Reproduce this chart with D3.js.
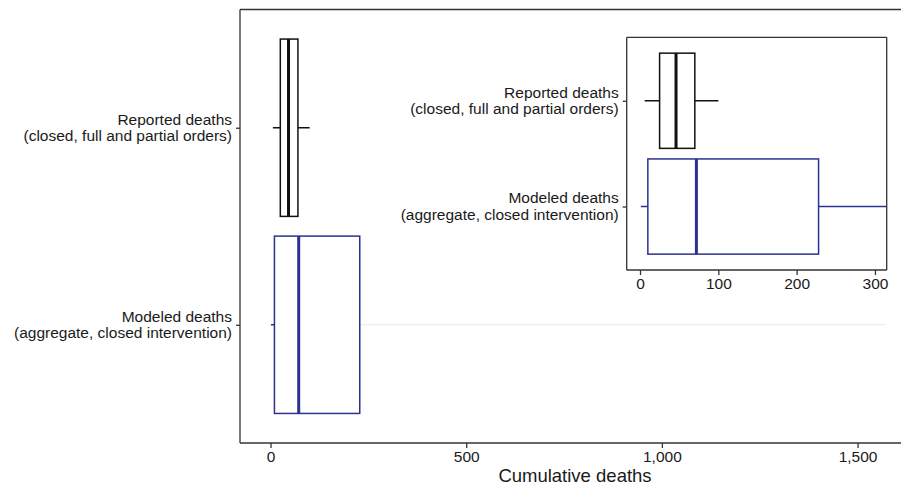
<!DOCTYPE html>
<html lang="en">
	<head>
		<meta charset="utf-8">
		<title>Cumulative deaths</title>
		<script type="text/javascript" src="https://cdn.jsdelivr.net/npm/d3@7"></script>
		<style>
			body { margin: 0; background: #ffffff; }
			text { font-family: "Liberation Sans", Arial, sans-serif; fill: #1a1a1a; }
		</style>
	</head>
	<body>
		<script type="text/javascript">
			// categories and box stats (whisker low, q1, median, q3, whisker high)
			var categories = ["Reported", "Modeled"];
			var labelLines = [
				["Reported deaths", "(closed, full and partial orders)"],
				["Modeled deaths", "(aggregate, closed intervention)"]
			];
			var whiskerLow = [6, 1];
			var q1 = [25, 10];
			var median = [46, 72];
			var q3 = [70, 228];
			var whiskerHigh = [100, 1570];

			var mainTicks = [0, 500, 1000, 1500];
			var insetTicks = [0, 100, 200, 300];

			var colors = ["#111111", "#2e3192"];

			var w = 901;
			var h = 487;

			var svg = d3.select("body")
						.append("svg")
						.attr("width", w)
						.attr("height", h);

			var rows = categories.map(function(c, i) {
				return {
					cat: c, lines: labelLines[i], lo: whiskerLow[i], q1: q1[i],
					med: median[i], q3: q3[i], hi: whiskerHigh[i], color: colors[i]
				};
			});

			// draw one boxplot panel
			function drawPanel(g, xScale, yScale, opts) {
				var boxH = yScale.step() * 0.9;

				// clip to the panel
				var clipId = "clip-" + opts.name;
				g.append("clipPath")
					.attr("id", clipId)
					.append("rect")
					.attr("x", opts.left)
					.attr("y", opts.top)
					.attr("width", opts.right - opts.left)
					.attr("height", opts.bottom - opts.top);

				var plot = g.append("g").attr("clip-path", "url(#" + clipId + ")");

				var box = plot.selectAll("g.box")
					.data(rows)
					.enter()
					.append("g")
					.attr("class", "box");

				// whiskers
				box.append("line")
					.attr("x1", function(d) { return xScale(d.lo); })
					.attr("x2", function(d) { return xScale(d.q1); })
					.attr("y1", function(d) { return yScale(d.cat); })
					.attr("y2", function(d) { return yScale(d.cat); })
					.attr("stroke", function(d) { return d.color; })
					.attr("stroke-width", 1.5);

				box.append("line")
					.attr("x1", function(d) { return xScale(d.q3); })
					.attr("x2", function(d) { return xScale(d.hi); })
					.attr("y1", function(d) { return yScale(d.cat); })
					.attr("y2", function(d) { return yScale(d.cat); })
					.attr("stroke", function(d, i) {
						// the long whisker on the main panel renders very faint
						if (opts.name == "main" && i == 1) return "#e6e6f8";
						return d.color;
					})
					.attr("stroke-width", function(d, i) {
						return (opts.name == "main" && i == 1) ? 1 : 1.5;
					});

				// boxes
				box.append("rect")
					.attr("x", function(d) { return xScale(d.q1); })
					.attr("y", function(d) { return yScale(d.cat) - boxH / 2; })
					.attr("width", function(d) { return xScale(d.q3) - xScale(d.q1); })
					.attr("height", boxH)
					.attr("fill", "#ffffff")
					.attr("stroke", function(d) { return d.color; })
					.attr("stroke-width", 1.5);

				// medians
				box.append("line")
					.attr("x1", function(d) { return xScale(d.med); })
					.attr("x2", function(d) { return xScale(d.med); })
					.attr("y1", function(d) { return yScale(d.cat) - boxH / 2; })
					.attr("y2", function(d) { return yScale(d.cat) + boxH / 2; })
					.attr("stroke", function(d) { return d.color; })
					.attr("stroke-width", 3);

				// X axis
				var xAxis = d3.axisBottom()
					.scale(xScale)
					.tickValues(opts.ticks)
					.tickFormat(d3.format(","))
					.tickSize(5)
					.tickPadding(3);

				var xg = g.append("g")
					.attr("transform", "translate(0," + opts.bottom + ")")
					.call(xAxis);
				xg.select(".domain").remove();
				xg.append("line")
					.attr("x1", opts.left)
					.attr("x2", opts.right)
					.attr("stroke", "#333333")
					.attr("stroke-width", 1.3);
				xg.selectAll(".tick line").attr("stroke", "#333333").attr("stroke-width", 1.3);
				xg.selectAll(".tick text")
					.attr("font-size", "15.5px")
					.attr("font-family", "Liberation Sans, Arial, sans-serif")
					.attr("fill", "#1a1a1a");

				// Y axis (ticks only, labels drawn as two lines)
				var yAxis = d3.axisLeft()
					.scale(yScale)
					.tickSize(4)
					.tickFormat("");

				var yg = g.append("g")
					.attr("transform", "translate(" + opts.left + ",0)")
					.call(yAxis);
				yg.select(".domain").remove();
				yg.selectAll(".tick line").attr("stroke", "#333333").attr("stroke-width", 1.3);

				var lab = g.selectAll("text.ylab")
					.data(rows)
					.enter()
					.append("text")
					.attr("class", "ylab")
					.attr("text-anchor", "end")
					.attr("font-size", "15.5px")
					.attr("y", function(d) { return yScale(d.cat); });
				lab.selectAll("tspan")
					.data(function(d) { return d.lines; })
					.enter()
					.append("tspan")
					.attr("x", opts.left - 8)
					.attr("dy", function(d, i) { return i == 0 ? "-0.2em" : "1.05em"; })
					.text(function(d) { return d; });

				// panel frame
				g.append("line")
					.attr("x1", opts.left).attr("x2", opts.left)
					.attr("y1", opts.top).attr("y2", opts.bottom)
					.attr("stroke", "#333333").attr("stroke-width", 1.3);
				g.append("line")
					.attr("x1", opts.left).attr("x2", opts.right)
					.attr("y1", opts.top).attr("y2", opts.top)
					.attr("stroke", "#333333").attr("stroke-width", 1.3);
				if (opts.closed) {
					g.append("line")
						.attr("x1", opts.right).attr("x2", opts.right)
						.attr("y1", opts.top).attr("y2", opts.bottom)
						.attr("stroke", "#333333").attr("stroke-width", 1.3);
				}
			}

			// Main panel
			var mainOpts = { name: "main", left: 240, right: 901, top: 9.5, bottom: 443, ticks: mainTicks, closed: false };
			var xMain = d3.scaleLinear()
						.domain([-78, 1611])
						.range([mainOpts.left, mainOpts.right]);
			var yMain = d3.scalePoint()
						.domain(categories)
						.range([mainOpts.top, mainOpts.bottom])
						.padding(0.6);

			drawPanel(svg.append("g"), xMain, yMain, mainOpts);

			// X axis title
			svg.append("text")
				.attr("text-anchor", "middle")
				.attr("x", 575)
				.attr("y", 482)
				.attr("font-size", "18.5px")
				.text("Cumulative deaths");

			// Inset panel
			var insetOpts = { name: "inset", left: 626.7, right: 886.7, top: 37.3, bottom: 270, ticks: insetTicks, closed: true };
			var xInset = d3.scaleLinear()
						.domain([-17, 315])
						.range([insetOpts.left, insetOpts.right]);
			var yInset = d3.scalePoint()
						.domain(categories)
						.range([insetOpts.top, insetOpts.bottom])
						.padding(0.6);

			var inset = svg.append("g");
			inset.append("rect")
				.attr("x", insetOpts.left)
				.attr("y", insetOpts.top)
				.attr("width", insetOpts.right - insetOpts.left)
				.attr("height", insetOpts.bottom - insetOpts.top)
				.attr("fill", "#ffffff");
			drawPanel(inset, xInset, yInset, insetOpts);
		</script>
	</body>
</html>
